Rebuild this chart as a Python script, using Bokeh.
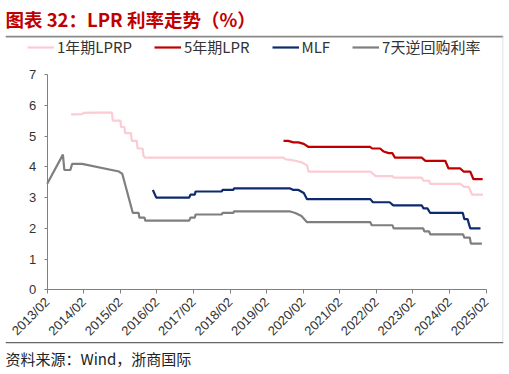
import pandas as pd
from bokeh.plotting import figure
from bokeh.models import (Range1d, FixedTicker, DatetimeTickFormatter, Legend,
                          LegendItem, Title, Span)
from bokeh.embed import file_html
from bokeh.resources import INLINE
import math

title_text = "图表 32：LPR 利率走势（%）"
source_text = "资料来源：Wind，浙商国际"
series_names = ["1年期LPRP", "5年期LPR", "MLF", "7天逆回购利率"]
series_colors = ["#fbccd3", "#c00000", "#0d2a6e", "#7f7f7f"]
x_tick_labels = ["2013/02", "2014/02", "2015/02", "2016/02", "2017/02", "2018/02",
                 "2019/02", "2020/02", "2021/02", "2022/02", "2023/02", "2024/02",
                 "2025/02"]
y_ticks = [0, 1, 2, 3, 4, 5, 6, 7]

lpr1y_dates = ["2013-09-27", "2014-01-15", "2014-02-01", "2014-05-12", "2014-11-10",
               "2014-11-17", "2015-02-02", "2015-02-09", "2015-03-14", "2015-03-21",
               "2015-05-19", "2015-05-26", "2015-07-16", "2015-07-23", "2015-09-13",
               "2015-09-20", "2015-09-27", "2015-10-04", "2019-07-19", "2019-08-07",
               "2019-09-24", "2019-11-14", "2020-01-15", "2020-03-10", "2020-03-25",
               "2021-12-02", "2021-12-22", "2022-01-25", "2022-07-12", "2022-07-23",
               "2023-04-29", "2023-05-17", "2023-07-12", "2023-07-23", "2024-05-18",
               "2024-06-27", "2024-08-10", "2024-09-12", "2024-12-31"]
lpr1y_values = [5.71, 5.72, 5.76, 5.77, 5.77,
                5.51, 5.51, 5.30, 5.30, 5.10,
                5.10, 4.85, 4.85, 4.60, 4.60,
                4.35, 4.35, 4.30, 4.30, 4.25,
                4.23, 4.20, 4.15, 4.05, 3.85,
                3.85, 3.80, 3.70, 3.70, 3.65,
                3.65, 3.55, 3.55, 3.45, 3.45,
                3.35, 3.35, 3.10, 3.10]

lpr5y_dates = ["2019-07-19", "2019-09-05", "2019-10-26", "2019-12-16", "2020-02-07",
               "2020-03-25", "2021-12-02", "2021-12-20", "2022-03-10", "2022-04-15",
               "2022-06-03", "2022-07-10", "2022-08-05", "2023-04-29", "2023-06-05",
               "2023-12-20", "2024-01-22", "2024-05-18", "2024-06-20", "2024-08-25",
               "2024-09-27", "2024-12-28"]
lpr5y_values = [4.85, 4.85, 4.80, 4.80, 4.75,
                4.65, 4.65, 4.60, 4.60, 4.50,
                4.45, 4.45, 4.30, 4.30, 4.20,
                4.20, 3.95, 3.95, 3.85, 3.85,
                3.60, 3.60]

mlf_dates = ["2015-12-23", "2016-01-26", "2016-12-20", "2017-01-01", "2017-02-14",
             "2017-02-21", "2017-11-10", "2017-11-17", "2018-03-05", "2018-03-12",
             "2019-09-24", "2019-10-26", "2019-12-16", "2020-02-07", "2020-03-10",
             "2021-12-02", "2021-12-28", "2022-06-13", "2022-07-19", "2023-04-29",
             "2023-05-17", "2023-06-25", "2023-07-23", "2024-06-13", "2024-06-27",
             "2024-07-30", "2024-08-25", "2024-12-06"]
mlf_values = [3.25, 3.00, 3.00, 3.10, 3.10,
              3.20, 3.20, 3.25, 3.25, 3.30,
              3.30, 3.25, 3.25, 3.15, 2.95,
              2.95, 2.85, 2.85, 2.75, 2.75,
              2.65, 2.65, 2.50, 2.50, 2.30,
              2.30, 2.00, 2.00]

repo_dates = ["2013-02-01", "2013-07-08", "2013-07-22", "2013-09-20", "2013-10-08",
              "2014-01-15", "2015-01-19", "2015-02-21", "2015-06-06", "2015-08-03",
              "2015-08-10", "2015-10-01", "2015-10-08", "2016-12-20", "2017-01-01",
              "2017-02-14", "2017-02-21", "2017-11-10", "2017-11-17", "2018-03-05",
              "2018-03-12", "2019-09-24", "2019-11-14", "2020-01-15", "2020-03-10",
              "2021-12-02", "2021-12-16", "2022-07-12", "2022-07-23", "2023-05-14",
              "2023-05-25", "2023-07-12", "2023-07-23", "2024-06-16", "2024-06-27",
              "2024-08-21", "2024-09-01", "2024-12-20"]
repo_values = [3.45, 4.40, 3.90, 3.90, 4.10,
               4.10, 3.85, 3.77, 2.50, 2.50,
               2.35, 2.35, 2.25, 2.25, 2.35,
               2.35, 2.45, 2.45, 2.50, 2.50,
               2.55, 2.55, 2.50, 2.40, 2.20,
               2.20, 2.10, 2.10, 2.00, 2.00,
               1.90, 1.90, 1.80, 1.80, 1.70,
               1.70, 1.50, 1.50]

# ---- layout (pixels) ----
W, H = 509, 374
FL, FR, FT, FB = 5, 503, 32, 343          # frame = bordered box
AX_L, AX_R = 46.7, 485.7                   # x pixel of first / last tick
AX_T, AX_B = 71.7, 288.7                   # y pixel of 7 / 0

tick_ts = [pd.Timestamp(t.replace("/", "-") + "-01") for t in x_tick_labels]
tick_ms = [t.value / 1e6 for t in tick_ts]
t0, t1 = tick_ms[0], tick_ms[-1]
spx = (t1 - t0) / (AX_R - AX_L)
xs, xe = t0 - (AX_L - FL) * spx, t1 + (FR - AX_R) * spx
y0, y1 = y_ticks[0], y_ticks[-1]
upx = (y1 - y0) / (AX_B - AX_T)
ys, ye = y0 - (FB - AX_B) * upx, y1 + (AX_T - FT) * upx

p = figure(width=W, height=H, output_backend="svg", toolbar_location=None,
           x_axis_type="datetime",
           x_range=Range1d(xs, xe), y_range=Range1d(ys, ye),
           min_border_left=FL, min_border_right=W - FR, min_border_top=FT,
           min_border_bottom=H - FB)
p.outline_line_color = None
p.xgrid.grid_line_color = None
p.ygrid.grid_line_color = None
p.background_fill_color = "white"
p.border_fill_color = "white"

series = [(lpr1y_dates, lpr1y_values), (lpr5y_dates, lpr5y_values),
          (mlf_dates, mlf_values), (repo_dates, repo_values)]
renderers = []
for (d, v), c in zip(series, series_colors):
    r = p.line(pd.to_datetime(d), v, line_color=c, line_width=2.2)
    renderers.append(r)

axis_color = "#808080"
label_color = "#333333"
xa = p.xaxis[0]
xa.fixed_location = y0
xa.bounds = (t0, t1)
xa.ticker = FixedTicker(ticks=tick_ms)
xa.formatter = DatetimeTickFormatter(years="%Y/%m", months="%Y/%m", days="%Y/%m",
                                     hours="%Y/%m", hourmin="%Y/%m")
xa.major_label_orientation = math.pi / 4
xa.major_label_text_font = "Liberation Sans"
xa.major_label_text_font_size = "13px"
xa.major_label_text_color = label_color
xa.axis_line_color = axis_color
xa.major_tick_line_color = axis_color
xa.major_tick_out = 4
xa.major_tick_in = 0
xa.minor_tick_line_color = None
xa.major_label_standoff = 6

ya = p.yaxis[0]
ya.fixed_location = t0
ya.bounds = (y0, y1)
ya.ticker = FixedTicker(ticks=y_ticks)
ya.major_label_text_font = "Liberation Sans"
ya.major_label_text_font_size = "13px"
ya.major_label_text_color = label_color
ya.axis_line_color = axis_color
ya.major_tick_line_color = axis_color
ya.major_tick_out = 3
ya.major_tick_in = 0
ya.minor_tick_line_color = None
ya.major_label_standoff = 8

legend = Legend(items=[LegendItem(label=n, renderers=[r]) for n, r in zip(series_names, renderers)],
                location=(22, 286), orientation="horizontal", padding=0, margin=0,
                spacing=22, glyph_width=27, glyph_height=12, label_standoff=3,
                label_text_font_size="15px", label_text_font="Noto Sans CJK SC",
                label_text_color=label_color, border_line_alpha=0,
                background_fill_alpha=0)
p.add_layout(legend)

# box border lines (top, right, bottom)
p.add_layout(Span(location=ye - 1.0 * upx, dimension="width",
                  line_color="#888888", line_width=2))
p.add_layout(Span(location=xe - 0.5 * spx, dimension="height",
                  line_color="#d6d6d6", line_width=1))
p.add_layout(Span(location=ys + 0.7 * upx, dimension="width",
                  line_color="#666666", line_width=1.5))

p.title = Title(text=title_text, align="left", text_font="Noto Sans CJK SC",
                text_font_style="bold", text_font_size="18.5px",
                text_color="#c00000", standoff=7, offset=0)
p.add_layout(Title(text=source_text, align="left", text_font="Noto Sans CJK SC",
                   text_font_style="normal", text_font_size="15px",
                   text_color="#222222", standoff=4, offset=0), "below")

open("out.html", "w").write(file_html(p, INLINE))
